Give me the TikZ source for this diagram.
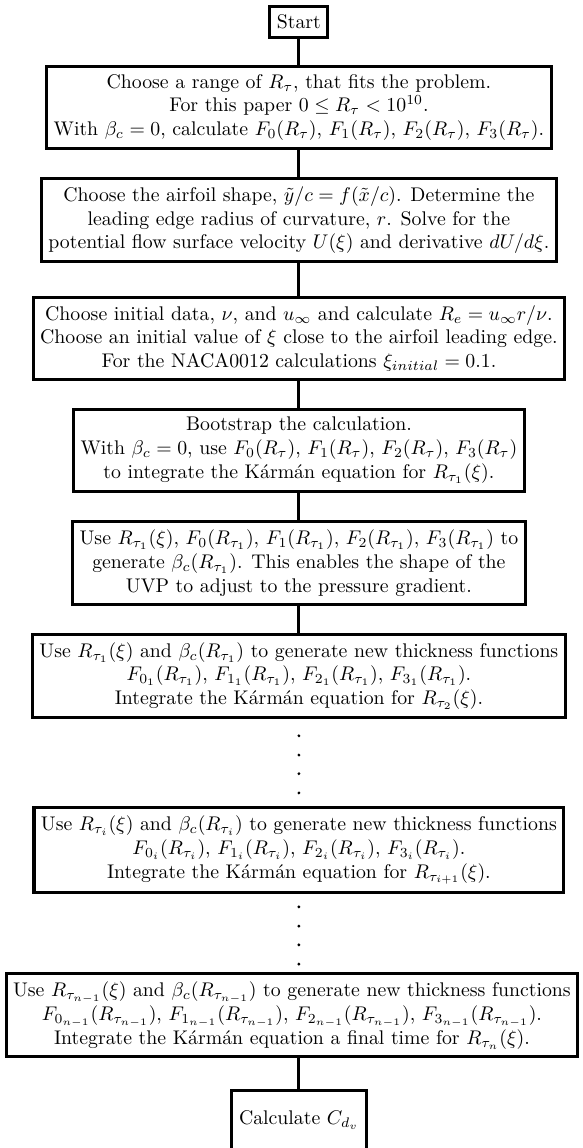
\documentclass[tikz,border=0pt]{standalone}
\usepackage{amsmath, amssymb}
\usepackage{tikz}

\begin{document}
\begin{tikzpicture}[scale=0.95,
		block/.style={draw, line width=1.55pt, align=center, inner xsep=3.5pt, inner ysep=4pt},
		link/.style={line width=1.55pt}]
		\useasboundingbox (-5.59,-21.47) rectangle (5.31,0);
		\node[block] (start) at (0,-0.41) {Start};
		\node[block] (range) at (0,-2.01) {Choose a range of $R_\tau$, that fits the problem.\\
			For this paper $0\leq R_\tau<10^{10}$.\\
			With $\beta_c=0$, calculate $F_0(R_\tau)$, $F_1(R_\tau)$, $F_2(R_\tau)$, $F_3(R_\tau)$.};
		\node[block] (airfoil) at (0,-4.12) {Choose the airfoil shape, $\tilde{y}/c=f(\tilde{x}/c)$. Determine the\\
			leading edge radius of curvature, $r$. Solve for the\\
			potential flow surface velocity $U(\xi)$ and derivative $dU/d\xi$.};
		\node[block] (init) at (0,-6.33) {Choose initial data, $\nu$, and $u_\infty$ and calculate $R_e=u_\infty r/\nu$.\\
			Choose an initial value of $\xi$ close to the airfoil leading edge.\\
			For the NACA0012 calculations $\xi_{initial}=0.1$.};
		\node[block] (boot) at (0,-8.42) {Bootstrap the calculation.\\
			With $\beta_c=0$, use $F_0(R_\tau)$, $F_1(R_\tau)$, $F_2(R_\tau)$, $F_3(R_\tau)$\\
			to integrate the K\'arm\'an equation for $R_{\tau_1}(\xi)$.};
		\node[block] (beta) at (0,-10.53) {Use $R_{\tau_1}(\xi)$, $F_0(R_{\tau_1})$, $F_1(R_{\tau_1})$, $F_2(R_{\tau_1})$, $F_3(R_{\tau_1})$ to\\
			generate $\beta_c(R_{\tau_1})$. This enables the shape of the\\
			UVP to adjust to the pressure gradient.};
		\node[block] (iterone) at (0,-12.64) {Use $R_{\tau_1}(\xi)$ and $\beta_c(R_{\tau_1})$ to generate new thickness functions\\
			$F_{0_1}(R_{\tau_1})$, $F_{1_1}(R_{\tau_1})$, $F_{2_1}(R_{\tau_1})$, $F_{3_1}(R_{\tau_1})$.\\
			Integrate the K\'arm\'an equation for $R_{\tau_2}(\xi)$.};
		\node[block] (iteri) at (0,-15.90) {Use $R_{\tau_i}(\xi)$ and $\beta_c(R_{\tau_i})$ to generate new thickness functions\\
			$F_{0_i}(R_{\tau_i})$, $F_{1_i}(R_{\tau_i})$, $F_{2_i}(R_{\tau_i})$, $F_{3_i}(R_{\tau_i})$.\\
			Integrate the K\'arm\'an equation for $R_{\tau_{i+1}}(\xi)$.};
		\node[block] (iterlast) at (-0.13,-18.99) {Use $R_{\tau_{n-1}}(\xi)$ and $\beta_c(R_{\tau_{n-1}})$ to generate new thickness functions\\
			$F_{0_{n-1}}(R_{\tau_{n-1}})$, $F_{1_{n-1}}(R_{\tau_{n-1}})$, $F_{2_{n-1}}(R_{\tau_{n-1}})$, $F_{3_{n-1}}(R_{\tau_{n-1}})$.\\
			Integrate the K\'arm\'an equation a final time for $R_{\tau_n}(\xi)$.};
		\node[block, minimum width=2.4cm, minimum height=1.05cm] (cdv) at (0,-20.94) {Calculate $C_{d_v}$};
		
		% connecting lines
		\draw[link] (start) -- (range);
		\draw[link] (range) -- (airfoil);
		\draw[link] (airfoil) -- (init);
		\draw[link] (init) -- (boot);
		\draw[link] (boot) -- (beta);
		\draw[link] (beta) -- (iterone);
		\draw[link] (iterlast.south -| cdv.north) -- (cdv);
		
		% dots between the iterations
		\fill (0,-13.76) circle (0.03);
		\fill (0,-14.12) circle (0.03);
		\fill (0,-14.47) circle (0.03);
		\fill (0,-14.83) circle (0.03);
		\fill (0,-16.96) circle (0.03);
		\fill (0,-17.32) circle (0.03);
		\fill (0,-17.67) circle (0.03);
		\fill (0,-18.03) circle (0.03);
	\end{tikzpicture}
\end{document}
